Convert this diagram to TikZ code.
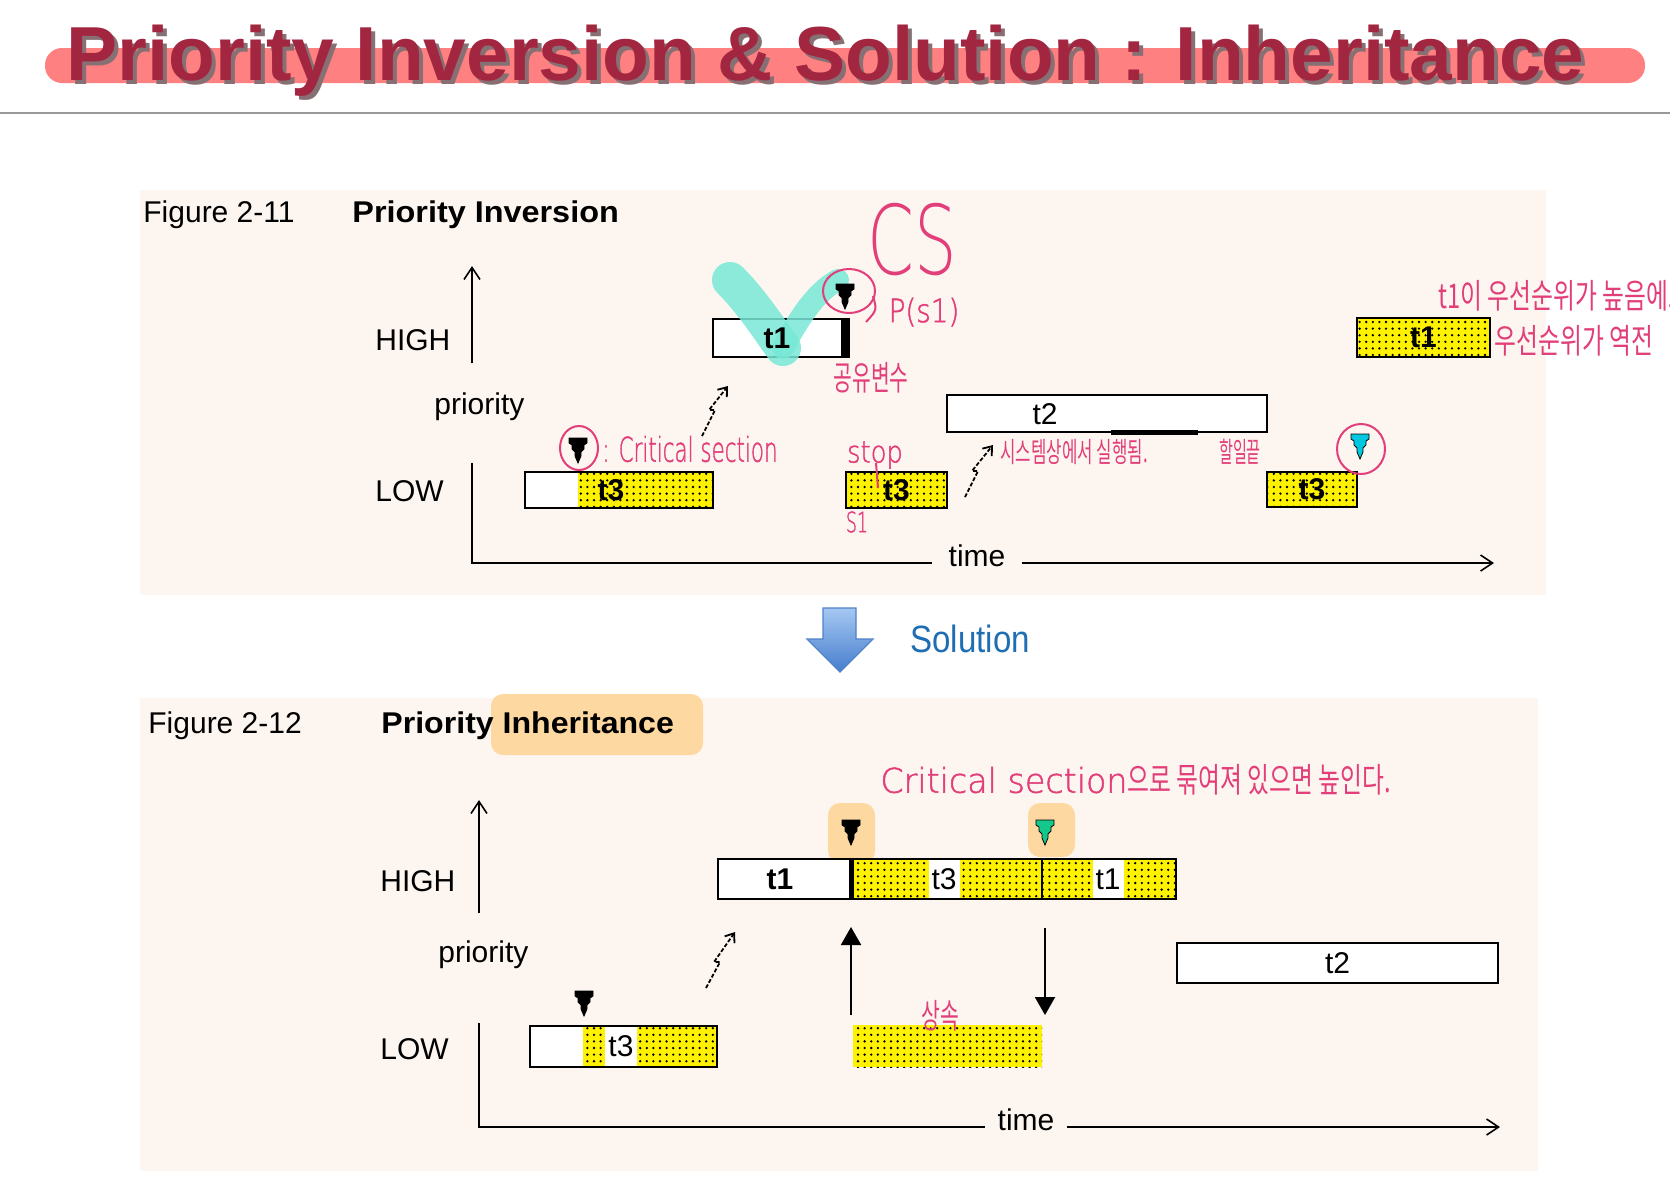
\documentclass[tikz,border=0pt]{standalone}
\usepackage{fontspec}
\setmainfont{Liberation Sans}
\newfontfamily\handfont{Noto Sans CJK KR}
\newfontfamily\thinfont{DejaVu Sans ExtraLight}
\newfontfamily\penfont[FakeBold=1.5]{DejaVu Sans ExtraLight}
\usepackage{tikz}
\usetikzlibrary{arrows.meta, patterns.meta}

\definecolor{panelbg}{RGB}{253,246,240}
\definecolor{titlered}{RGB}{163,38,64}
\definecolor{titleshade}{RGB}{135,112,116}
\definecolor{titlebar}{RGB}{255,128,128}
\definecolor{ink}{RGB}{226,62,122}
\definecolor{hilite}{RGB}{120,232,214}
\definecolor{peach}{RGB}{253,216,160}
\definecolor{solblue}{RGB}{31,110,180}
\definecolor{markcyan}{RGB}{0,200,225}
\definecolor{markgreen}{RGB}{20,200,140}
\definecolor{arrowtop}{RGB}{165,200,242}
\definecolor{arrowbot}{RGB}{70,125,205}
\definecolor{arrowedge}{RGB}{80,130,200}

\newcommand{\hw}[2]{\scalebox{#1}[1]{\handfont #2}}
\newcommand{\thin}[2]{\scalebox{#1}[1]{\thinfont #2}}
\newcommand{\pen}[2]{\scalebox{#1}[1]{\penfont #2}}
\newcommand{\wide}[2]{\scalebox{#1}[1]{#2}}
\newcommand{\titletext}{Priority Inversion \& Solution : Inheritance}

\tikzset{
  task/.style={draw, line width=1pt, fill=white, inner sep=0pt, outer sep=0pt, anchor=north west},
  busy/.style={draw, line width=1pt, inner sep=0pt, outer sep=0pt, anchor=north west,
    preaction={fill=yellow}, pattern={Dots[distance=3.3pt, radius=.65pt]}},
  busyfill/.style={fill=yellow, postaction={pattern={Dots[distance=3.3pt, radius=.65pt]}}},
  lbl/.style={font=\bfseries\fontsize{15}{18}\selectfont, inner sep=0pt},
  lblw/.style={fill=white, inner xsep=1.5pt, inner ysep=0pt, minimum height=19pt,
    font=\fontsize{15}{18}\selectfont},
  txt/.style={font=\fontsize{15}{18}\selectfont, inner sep=0pt},
  axis/.style={line width=1pt},
  ax/.style={axis, -{Straight Barb[length=6pt, width=8pt, line width=.8pt]}},
  zig/.style={line width=.9pt, dash pattern=on 2pt off 1pt, -{Straight Barb[length=4pt, width=6pt]}},
  ann/.style={ink, inner sep=0pt},
  ring/.style={ink, line width=1pt},
  pics/tack/.style={code={
    \filldraw[fill=#1, draw=black, line width=.4pt] (-9,-12) -- (9,-12) -- (9,-7) -- (6,-5)
      -- (6,-1) -- (3,2) -- (3,6) -- (0,13) -- (-3,6) -- (-3,2) -- (-6,-1) -- (-6,-5)
      -- (-9,-7) -- cycle;}},
}

\begin{document}
\begin{tikzpicture}[x=0.5pt, y=-0.5pt]
\useasboundingbox (0,0) rectangle (1670,1180);
\clip (0,0) rectangle (1670,1180);
\fill[white] (0,0) rectangle (1670,1180);

% title
\fill[titlebar, rounded corners=8.5pt] (45,48) rectangle (1645,83);
\node[anchor=base west, inner sep=0pt, font=\bfseries\fontsize{38.3}{40}\selectfont, titlered] (title) at (66,80)
  {\rlap{\hspace{2pt}\raisebox{-2pt}{\color{titleshade}\titletext}}\titletext};
\draw[black!40, line width=1pt] (0,113) -- (1670,113);

% panels
\fill[panelbg] (140,190) rectangle (1546,595);
\fill[panelbg] (140,698) rectangle (1538,1171);

%% Figure 2-11
\node[txt, anchor=base west] (figA) at (143,222) {Figure 2-11};
\node[txt, anchor=base west, font=\bfseries\fontsize{15}{18}\selectfont] (headA) at (352,222) {\wide{1.08}{Priority Inversion}};
\node[txt, anchor=base west] (highA) at (375,350) {HIGH};
\node[txt, anchor=base west] (prioA) at (434,414) {priority};
\node[txt, anchor=base west] (lowA) at (375,501) {LOW};

\node[task, minimum width=94pt, minimum height=18pt] (t3a) at (525,472) {};
\fill[busyfill] (578,473) rectangle (712,507);
\node[lbl] (t3alab) at (611,490) {t3};
\node[task, minimum width=68pt, minimum height=19pt] (t1a) at (713,319) {};
\fill (841,319) rectangle (849,357);
\node[busy, minimum width=50.5pt, minimum height=18pt, font=\bfseries\fontsize{15}{18}\selectfont] (t3b) at (846,472) {t3};
\node[task, minimum width=160pt, minimum height=18.5pt] (t2a) at (947,395) {};
\draw[line width=2.5pt] (1111,432) -- (1198,432);
\node[txt] (t2alab) at (1045,414) {t2};
\node[busy, minimum width=45pt, minimum height=17.5pt, font=\bfseries\fontsize{15}{18}\selectfont] (t3c) at (1267,472) {t3};
\node[busy, minimum width=66.5pt, minimum height=19.5pt, font=\bfseries\fontsize{15}{18}\selectfont] (t1b) at (1357,318) {t1};

% highlighter over t1
\draw[hilite, opacity=.85, line width=18pt, line cap=round] (730,280) .. controls (752,302) and (770,330) .. (783,348);
\draw[hilite, opacity=.85, line width=11pt, line cap=round] (783,348) .. controls (798,320) and (815,292) .. (838,280);
\node[lbl] (t1alab) at (777,338) {t1};

% axes
\coordinate (oA) at (472,563);
\coordinate (yA1) at (472,363);
\coordinate (yA2) at (472,266);
\coordinate (yA3) at (472,463);
\coordinate (xA) at (1494,563);
\node[txt, anchor=base, inner xsep=8pt] (timeA) at (977,566) {time};
\draw[ax] (yA1) -- (yA2);
\draw[axis] (yA3) -- (oA) -- (timeA.west |- oA);
\draw[ax] (timeA.east |- oA) -- (xA);

% preemption arrows
\coordinate (zA1) at (702,436);
\coordinate (zA2) at (728,386);
\draw[zig] (zA1) -- (715,410) -- (709,410) -- (zA2);
\coordinate (zB1) at (965,497);
\coordinate (zB2) at (993,445);
\draw[zig] (zB1) -- (978,471) -- (972,471) -- (zB2);

% markers and notes
\pic at (578,450) {tack=black};
\pic at (845,296) {tack=black};
\pic at (1360,446) {tack=markcyan};
\draw[ring] (579,448) ellipse [x radius=19, y radius=22];
\draw[ring] (849,291) ellipse [x radius=26, y radius=22];
\draw[ring] (873,296) .. controls (877,310) .. (866,322);
\draw[ring] (1361,449) ellipse [x radius=24, y radius=25];

\node[ann, font=\fontsize{48}{50}\selectfont] (cs) at (912,240) {\thin{0.7}{CS}};
\node[ann, font=\fontsize{16}{18}\selectfont] (ps1) at (924,312) {\pen{0.87}{P(s1)}};
\node[ann, font=\fontsize{17}{19}\selectfont] (shared) at (871,378) {\hw{0.6}{공유변수}};
\node[ann, anchor=west, font=\fontsize{17}{19}\selectfont] (crit) at (602,449) {\pen{0.63}{: Critical section}};
\node[ann, font=\fontsize{15}{17}\selectfont] (stop) at (875,455) {\pen{0.86}{stop}};
\draw[ring] (876,463) -- (878,488);
\node[ann, font=\fontsize{14}{16}\selectfont] (sone) at (857,522) {\pen{0.62}{S1}};
\node[ann, anchor=west, font=\fontsize{14}{16}\selectfont] (sysrun) at (1000,452) {\hw{0.6}{시스템상에서 실행됨.}};
\node[ann, font=\fontsize{14}{16}\selectfont] (done) at (1240,452) {\hw{0.54}{할일끝}};
\node[ann, anchor=west, font=\fontsize{17}{19}\selectfont] (inv1) at (1438,296) {\hw{0.7}{t1이 우선순위가 높음에도}};
\node[ann, anchor=west, font=\fontsize{17}{19}\selectfont] (inv2) at (1494,341) {\hw{0.7}{우선순위가 역전}};

%% Solution
\shadedraw[top color=arrowtop, bottom color=arrowbot, draw=arrowedge, line width=.6pt]
  (823,608) -- (856,608) -- (856,639) -- (873,639) -- (840,672) -- (807,639) -- (823,639) -- cycle;
\node[anchor=base west, inner sep=0pt, font=\fontsize{19}{22}\selectfont, solblue] (sol) at (910,652) {\wide{0.87}{Solution}};

%% Figure 2-12
\fill[peach, rounded corners=6pt] (491,694) rectangle (703,755);
\fill[peach, rounded corners=6pt] (828,803) rectangle (875,863);
\fill[peach, rounded corners=6pt] (1028,803) rectangle (1075,857);
\node[txt, anchor=base west] (figB) at (148,733) {Figure 2-12};
\node[txt, anchor=base west, font=\bfseries\fontsize{15}{18}\selectfont] (headB) at (381,733) {\wide{1.07}{Priority Inheritance}};
\node[txt, anchor=base west] (highB) at (380,891) {HIGH};
\node[txt, anchor=base west] (prioB) at (438,962) {priority};
\node[txt, anchor=base west] (lowB) at (380,1059) {LOW};

\node[task, minimum width=93.5pt, minimum height=20.5pt] (t3d) at (530,1026) {};
\fill[busyfill] (583,1027) rectangle (716,1066);
\node[lblw, minimum height=19.5pt] (t3dlab) at (621,1046.5) {t3};

\node[task, minimum width=229pt, minimum height=20pt] (t1c) at (718,859) {};
\fill[busyfill] (852,860) rectangle (1175,898);
\draw[line width=2.5pt] (851,859) -- (851,899);
\draw[line width=.8pt] (1042,859) -- (1042,899);
\node[lbl] (t1clab) at (780,879) {t1};
\node[lblw] (t3elab) at (944,879) {t3};
\node[lblw] (t1dlab) at (1108,879) {t1};

\fill[busyfill] (853,1025) rectangle (1042,1067);
\node[task, minimum width=160.5pt, minimum height=20pt, font=\fontsize{15}{18}\selectfont] (t2b) at (1177,943) {t2};

\pic at (584,1003) {tack=black};
\pic at (851,832) {tack=black};
\pic at (1045,832) {tack=markgreen};

\coordinate (upS) at (851,1015);
\coordinate (upE) at (851,927);
\coordinate (dnS) at (1045,928);
\coordinate (dnE) at (1045,1015);
\draw[line width=1pt, -{Triangle[length=9pt, width=10pt]}] (upS) -- (upE);
\draw[line width=1pt, -{Triangle[length=9pt, width=10pt]}] (dnS) -- (dnE);

\coordinate (zC1) at (706,988);
\coordinate (zC2) at (735,932);
\draw[zig] (zC1) -- (720,962) -- (714,962) -- (zC2);

\coordinate (oB) at (479,1127);
\coordinate (yB1) at (479,913);
\coordinate (yB2) at (479,800);
\coordinate (yB3) at (479,1023);
\coordinate (xB) at (1500,1127);
\node[txt, anchor=base, inner xsep=6pt] (timeB) at (1026,1130) {time};
\draw[ax] (yB1) -- (yB2);
\draw[axis] (yB3) -- (oB) -- (timeB.west |- oB);
\draw[ax] (timeB.east |- oB) -- (xB);

\node[ann, font=\fontsize{17}{19}\selectfont] (inherit) at (940,1016) {\hw{0.6}{상속}};
\node[ann, anchor=west, font=\fontsize{17}{19}\selectfont] (raise) at (880,780)
  {\pen{0.98}{Critical section}\hw{0.7}{으로 묶여져 있으면 높인다.}};
\end{tikzpicture}
\end{document}
